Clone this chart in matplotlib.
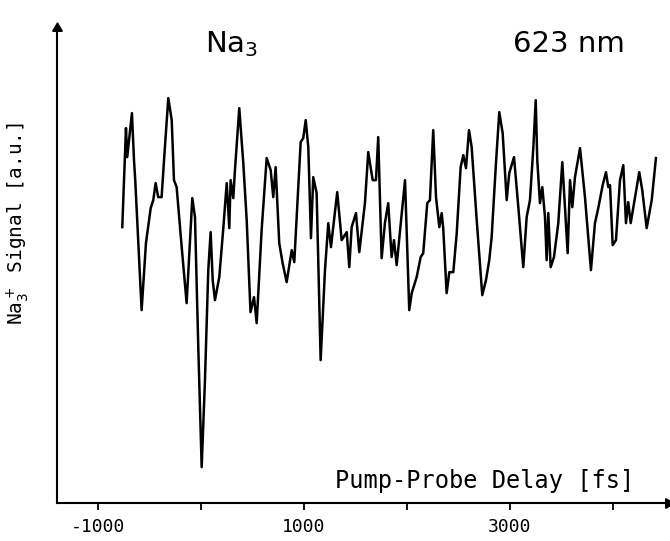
import numpy as np
import matplotlib
matplotlib.use("Agg")
import matplotlib.pyplot as plt

# pump-probe delay (fs) and Na3+ signal (a.u.)
delay = [-764, -728, -716, -670, -650, -638, -576, -534, -488, -463, -440, -415,
         -382, -350, -317, -284, -262, -236, -187, -139, -84, -58, -26, 7, 39,
         71, 94, 114, 136, 178, 217, 250, 275, 288, 314, 330, 372, 411, 444, 481,
         515, 541, 589, 638, 677, 702, 725, 760, 793, 832, 881, 906, 968, 993,
         1017, 1042, 1068, 1090, 1123, 1162, 1204, 1236, 1262, 1323, 1366, 1415,
         1440, 1463, 1505, 1537, 1592, 1624, 1667, 1699, 1721, 1754, 1786, 1818,
         1851, 1874, 1900, 1981, 2022, 2046, 2094, 2133, 2158, 2197, 2223, 2255,
         2282, 2314, 2337, 2352, 2385, 2411, 2450, 2483, 2521, 2547, 2573, 2602,
         2628, 2677, 2731, 2767, 2799, 2822, 2864, 2896, 2929, 2968, 2993, 3039,
         3081, 3129, 3162, 3194, 3227, 3250, 3265, 3291, 3314, 3340, 3356, 3372,
         3395, 3427, 3469, 3508, 3534, 3560, 3583, 3605, 3631, 3680, 3728, 3786,
         3825, 3857, 3900, 3932, 3954, 3971, 3997, 4029, 4068, 4100, 4126, 4148,
         4172, 4214, 4255, 4284, 4327, 4376, 4417]
signal = [2.76, 3.75, 3.46, 3.90, 3.43, 3.23, 1.93, 2.60, 2.95, 3.03, 3.20, 3.06,
          3.06, 3.56, 4.05, 3.83, 3.23, 3.16, 2.56, 2.00, 3.05, 2.86, 1.56, 0.36, 1.23,
          2.33, 2.71, 2.23, 2.03, 2.26, 2.75, 3.20, 2.75, 3.23, 3.05, 3.33, 3.95, 3.40, 2.83, 1.91,
          2.06, 1.80, 2.73, 3.45, 3.33, 3.06, 3.36, 2.60, 2.40, 2.21, 2.53, 2.41, 3.61, 3.65,
          3.83, 3.56, 2.65, 3.26, 3.10, 1.43, 2.33, 2.80, 2.56, 3.11, 2.63, 2.71,
          2.36, 2.76, 2.90, 2.51, 3.00, 3.51, 3.23, 3.23, 3.66, 2.45, 2.80, 3.00,
          2.46, 2.63, 2.38, 3.23, 1.93, 2.10, 2.26, 2.46, 2.50, 3.00, 3.03, 3.73,
          3.06, 2.76, 2.90, 2.75, 2.10, 2.31, 2.31, 2.70, 3.36, 3.48, 3.35, 3.73,
          3.56, 2.83, 2.08, 2.23, 2.43, 2.66, 3.40, 3.91, 3.70, 3.03, 3.30, 3.46,
          2.96, 2.36, 2.86, 3.03, 3.56, 4.03, 3.43, 3.00, 3.16, 2.86, 2.43, 2.90,
          2.36, 2.46, 2.80, 3.41, 2.96, 2.50, 3.23, 2.96, 3.26, 3.55, 3.06, 2.33,
          2.80, 2.95, 3.18, 3.31, 3.16, 3.18, 2.58, 2.63, 3.23, 3.38, 2.80, 3.01,
          2.80, 3.06, 3.31, 3.13, 2.75, 3.03, 3.45]

xticks = [-1000, 0, 1000, 2000, 3000, 4000]
xticklabels = ["-1000", "", "1000", "", "3000", ""]

mono = "DejaVu Sans Mono"

fig = plt.figure(figsize=(6.7, 5.41), dpi=100)
ax = fig.add_axes([0.085, 0.070, 0.912, 0.878])
ax.plot(delay, signal, color="black", lw=1.8)

ax.set_xlim(-1398, 4534)
ax.set_ylim(0, 4.75)

for s in ["top", "right"]:
    ax.spines[s].set_visible(False)
for s in ["left", "bottom"]:
    ax.spines[s].set_linewidth(1.5)

# arrow heads at the axis ends
ax.plot(1, 0, marker=(3, 0, -90), ms=8, color="black", transform=ax.transAxes, clip_on=False)
ax.plot(0, 1, marker=(3, 0, 0), ms=8, color="black", transform=ax.transAxes, clip_on=False)

ax.set_xticks(xticks)
ax.set_xticklabels(xticklabels, family=mono, fontsize=13)
ax.tick_params(axis="x", direction="out", length=5, width=1.3, pad=6)
ax.set_yticks([])

ax.text(0.455, 0.046, "Pump-Probe Delay [fs]", transform=ax.transAxes,
        family=mono, fontsize=17, ha="left", va="center")
fig.text(0.027, 0.586, r"Na$_3^+$ Signal [a.u.]", rotation=90,
         family=mono, fontsize=14, ha="center", va="center")

fig.text(0.306, 0.919, r"Na$_3$", fontsize=21, ha="left", va="center")
fig.text(0.766, 0.919, "623 nm", fontsize=21, ha="left", va="center")

fig.savefig("out.png", dpi=100)
